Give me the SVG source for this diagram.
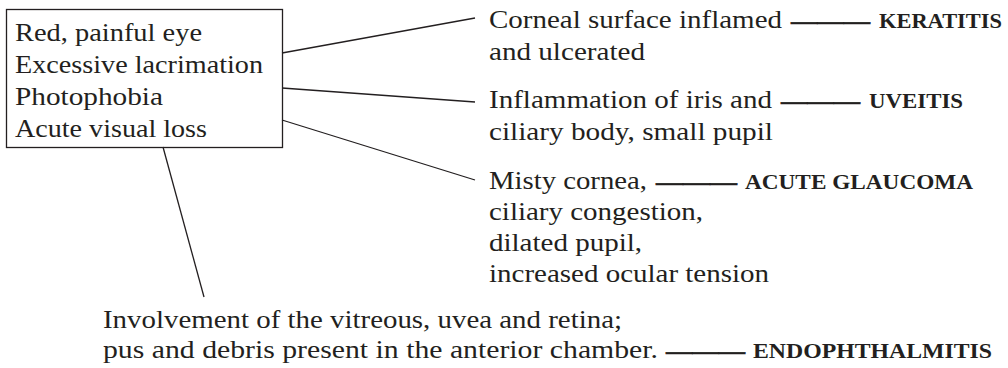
<svg xmlns="http://www.w3.org/2000/svg" width="1008" height="368" viewBox="0 0 1008 368">
<style>
text{font-family:"Liberation Serif","Times New Roman",serif;fill:#231f20}
.b{font-size:25px}
.l{font-size:20px;font-weight:bold}
.d{font-size:26px;font-weight:bold;stroke:#231f20;stroke-width:0.6}
.c{stroke:#231f20;stroke-width:1.3;fill:none}
</style>
<rect width="1008" height="368" fill="#ffffff"/>
<g id="connectors">
<line class="c" x1="282" y1="53" x2="475" y2="18"/>
<line class="c" x1="282" y1="88" x2="475" y2="102"/>
<line class="c" x1="282" y1="120" x2="475" y2="180"/>
<line class="c" x1="163" y1="147" x2="204" y2="297"/>
</g>
<g id="symptoms">
<rect x="6.5" y="9.5" width="276" height="138" fill="none" stroke="#231f20" stroke-width="1.3"/>
<text class="b" x="15" y="41" textLength="187" lengthAdjust="spacingAndGlyphs">Red, painful eye</text>
<text class="b" x="15" y="73" textLength="248" lengthAdjust="spacingAndGlyphs">Excessive lacrimation</text>
<text class="b" x="15" y="105" textLength="148" lengthAdjust="spacingAndGlyphs">Photophobia</text>
<text class="b" x="15" y="137" textLength="192" lengthAdjust="spacingAndGlyphs">Acute visual loss</text>
</g>
<g id="keratitis">
<text class="b" x="489" y="28" textLength="293" lengthAdjust="spacingAndGlyphs">Corneal surface inflamed</text>
<text class="b" x="489" y="60" textLength="156" lengthAdjust="spacingAndGlyphs">and ulcerated</text>
<text class="d" x="791" y="29" textLength="79" lengthAdjust="spacingAndGlyphs">———</text>
<text class="l" x="879" y="28" textLength="123" lengthAdjust="spacingAndGlyphs">KERATITIS</text>
</g>
<g id="uveitis">
<text class="b" x="489" y="108" textLength="283" lengthAdjust="spacingAndGlyphs">Inflammation of iris and</text>
<text class="b" x="489" y="140" textLength="284" lengthAdjust="spacingAndGlyphs">ciliary body, small pupil</text>
<text class="d" x="781" y="109" textLength="79" lengthAdjust="spacingAndGlyphs">———</text>
<text class="l" x="869" y="108" textLength="94" lengthAdjust="spacingAndGlyphs">UVEITIS</text>
</g>
<g id="acute-glaucoma">
<text class="b" x="489" y="189" textLength="158" lengthAdjust="spacingAndGlyphs">Misty cornea,</text>
<text class="b" x="489" y="220" textLength="214" lengthAdjust="spacingAndGlyphs">ciliary congestion,</text>
<text class="b" x="489" y="251" textLength="153" lengthAdjust="spacingAndGlyphs">dilated pupil,</text>
<text class="b" x="489" y="282" textLength="280" lengthAdjust="spacingAndGlyphs">increased ocular tension</text>
<text class="d" x="656" y="190" textLength="81" lengthAdjust="spacingAndGlyphs">———</text>
<text class="l" x="745" y="189" textLength="228" lengthAdjust="spacingAndGlyphs">ACUTE GLAUCOMA</text>
</g>
<g id="endophthalmitis">
<text class="b" x="103" y="328" textLength="519" lengthAdjust="spacingAndGlyphs">Involvement of the vitreous, uvea and retina;</text>
<text class="b" x="103" y="358" textLength="555" lengthAdjust="spacingAndGlyphs">pus and debris present in the anterior chamber.</text>
<text class="d" x="666" y="359" textLength="79" lengthAdjust="spacingAndGlyphs">———</text>
<text class="l" x="753" y="358" textLength="239" lengthAdjust="spacingAndGlyphs">ENDOPHTHALMITIS</text>
</g>
</svg>
